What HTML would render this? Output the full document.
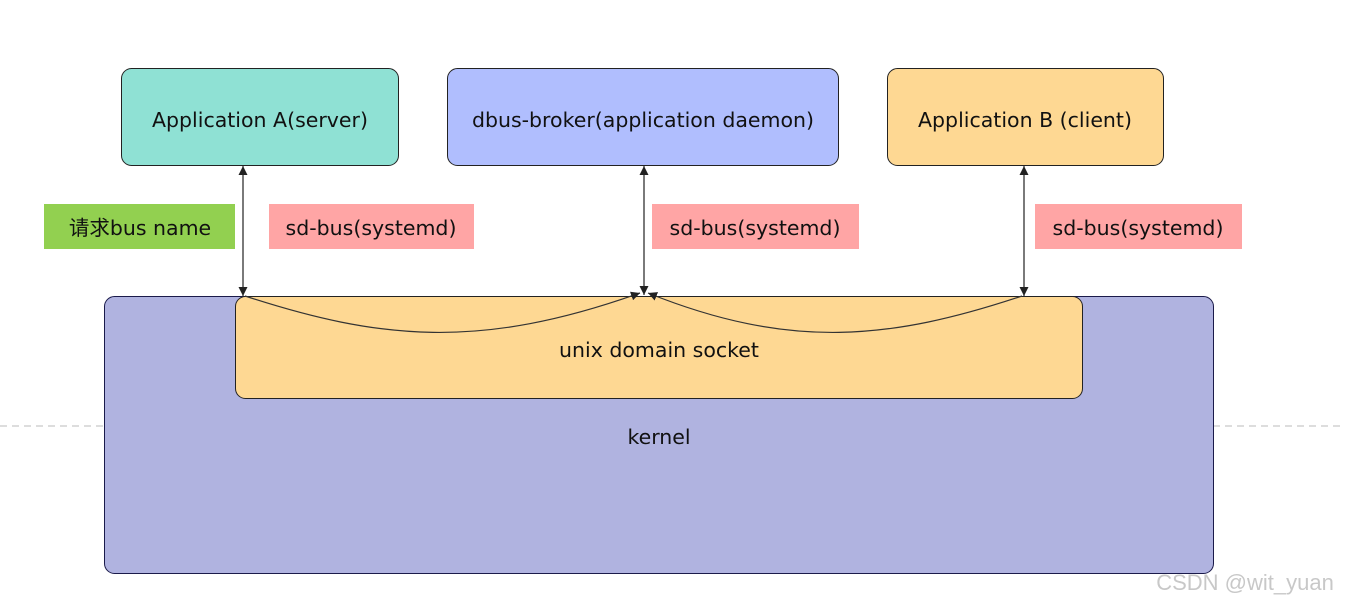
<!DOCTYPE html>
<html><head><meta charset="utf-8"><style>
html,body{margin:0;padding:0;background:#fff;}
svg{display:block;}
text{font-family:"DejaVu Sans","Noto Sans CJK SC",sans-serif;}
</style></head><body>
<svg width="1345" height="604" viewBox="0 0 1345 604" xmlns="http://www.w3.org/2000/svg">
<defs>
<marker id="ah" viewBox="0 0 10 10" refX="10" refY="5" markerWidth="9" markerHeight="9" orient="auto-start-reverse" markerUnits="userSpaceOnUse">
<path d="M0,0 L10,5 L0,10 z" fill="#222"/></marker>
</defs>
<line x1="0" y1="426" x2="104" y2="426" stroke="#bbb" stroke-dasharray="7,5"/>
<line x1="1213" y1="426" x2="1345" y2="426" stroke="#bbb" stroke-dasharray="7,5"/>
<rect x="121.5" y="68.5" width="277" height="97" rx="10" fill="#8fe1d4" stroke="#222"/>
<text x="260" y="127" font-size="20.5" text-anchor="middle" fill="#111">Application A(server)</text>
<rect x="447.5" y="68.5" width="391" height="97" rx="10" fill="#b0befe" stroke="#222"/>
<text x="643" y="127" font-size="20.5" text-anchor="middle" fill="#111">dbus-broker(application daemon)</text>
<rect x="887.5" y="68.5" width="276" height="97" rx="10" fill="#fed893" stroke="#222"/>
<text x="1025" y="127" font-size="20.5" text-anchor="middle" fill="#111">Application B (client)</text>
<rect x="44" y="204" width="191" height="45" fill="#92d050"/>
<text x="140" y="235" font-size="20.5" text-anchor="middle" fill="#111">请求bus name</text>
<rect x="269" y="204" width="205" height="45" fill="#ffa5a5"/>
<text x="371" y="235" font-size="20.5" text-anchor="middle" fill="#111">sd-bus(systemd)</text>
<rect x="652" y="204" width="207" height="45" fill="#ffa5a5"/>
<text x="755" y="235" font-size="20.5" text-anchor="middle" fill="#111">sd-bus(systemd)</text>
<rect x="1035" y="204" width="207" height="45" fill="#ffa5a5"/>
<text x="1138" y="235" font-size="20.5" text-anchor="middle" fill="#111">sd-bus(systemd)</text>
<rect x="104.5" y="296.5" width="1109" height="277" rx="10" fill="#b0b3e0" stroke="#1a1a4a"/>
<text x="659" y="444" font-size="20.5" text-anchor="middle" fill="#111">kernel</text>
<rect x="235.5" y="296.5" width="847" height="102" rx="10" fill="#fed893" stroke="#222"/>
<text x="659" y="357" font-size="20.5" text-anchor="middle" fill="#111">unix domain socket</text>
<line x1="243" y1="166" x2="243" y2="296" stroke="#222" stroke-width="1.2" marker-start="url(#ah)" marker-end="url(#ah)"/>
<line x1="644" y1="166" x2="644" y2="295" stroke="#222" stroke-width="1.2" marker-start="url(#ah)" marker-end="url(#ah)"/>
<line x1="1024" y1="166" x2="1024" y2="296" stroke="#222" stroke-width="1.2" marker-start="url(#ah)" marker-end="url(#ah)"/>
<path d="M245,296 C380,340 480,350 640,293" fill="none" stroke="#333" stroke-width="1.2" marker-end="url(#ah)"/>
<path d="M1022,296 C890,340 790,350 648,293" fill="none" stroke="#333" stroke-width="1.2" marker-end="url(#ah)"/>
<text x="1245" y="590" font-size="22" text-anchor="middle" fill="#c8c8c8" style="font-family:'Liberation Sans',sans-serif">CSDN @wit_yuan</text>
</svg>
</body></html>
